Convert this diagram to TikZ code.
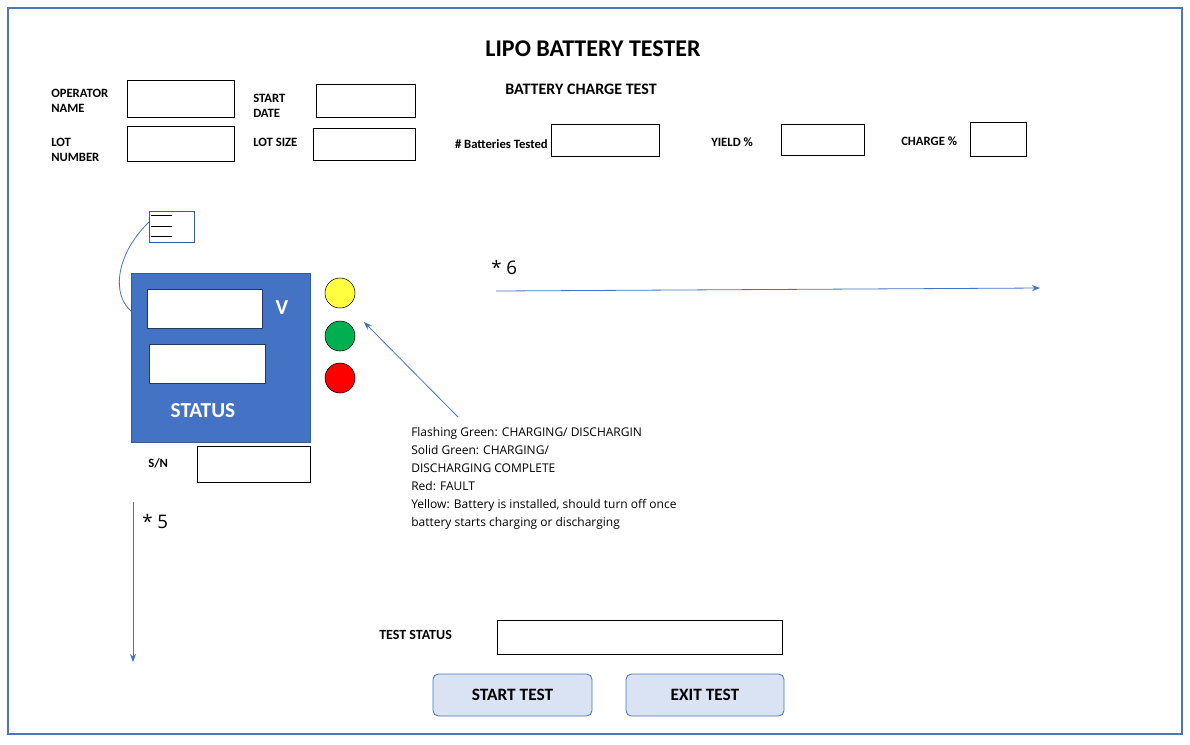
\documentclass[tikz,border=0pt]{standalone}
\usepackage{fontspec}
\setmainfont{Carlito}
\newfontfamily\notefont{Open Sans}
\usetikzlibrary{arrows.meta}
\definecolor{bl}{HTML}{4472C4}
\definecolor{btn}{HTML}{DAE3F3}
\definecolor{gr}{HTML}{00B050}
\definecolor{ye}{HTML}{FFFF40}
\definecolor{rd}{HTML}{FF0000}
\tikzset{
 lbl/.style={font=\bfseries\fontsize{9.5}{11}\selectfont,anchor=west,align=left,inner sep=0},
 fld/.style={draw=black,fill=white,line width=0.6pt},
 lamp/.style={circle,draw=black,minimum size=22.5pt,inner sep=0},
 conn/.style={draw=bl,line width=0.6pt,-{Stealth[length=6pt]}},
 button/.style={draw=bl,fill=btn,rounded corners=4pt,line width=0.6pt,font=\bfseries\fontsize{13}{15}\selectfont}
}
\begin{document}
\begin{tikzpicture}[x=0.75pt,y=-0.75pt]
\useasboundingbox (0,0) rectangle (1190,744);
\draw[bl!80!gray,line width=1.6pt] (8,8) rectangle (1182,734);
\node[font=\bfseries\fontsize{18}{20}\selectfont] (title) at (593,49) {LIPO BATTERY TESTER};
\node[font=\bfseries\fontsize{12}{14}\selectfont] (sub) at (581,89) {BATTERY CHARGE TEST};
\node[lbl] (opl) at (51,101) {OPERATOR\\NAME};
\draw[fld] (127,80) rectangle (234,117);
\node[lbl] (sdl) at (253,106) {START\\DATE};
\draw[fld] (316,84) rectangle (415,117);
\node[lbl] (lnl) at (51,150) {LOT\\NUMBER};
\draw[fld] (127,126) rectangle (234,161);
\node[lbl] (lsl) at (253,142) {LOT SIZE};
\draw[fld] (313,128) rectangle (415,160);
\node[lbl,anchor=east] (btl) at (548,144) {\# Batteries Tested};
\draw[fld] (551,124) rectangle (659,156);
\node[lbl] (yl) at (711,142) {YIELD \%};
\draw[fld] (781,124) rectangle (864,155);
\node[lbl] (cl) at (901,141) {CHARGE \%};
\draw[fld] (970,122) rectangle (1026,156);
% icon
\node[draw=bl!80!black,minimum width=33.75pt,minimum height=23.25pt,inner sep=0,anchor=north west] (icon) at (149,211) {};
\foreach \yy in {215,226,236} \draw[black,line width=0.6pt] (151,\yy) -- (172,\yy);
% device
\node[fill=bl,draw=bl!80!black,minimum width=134.25pt,minimum height=126.75pt,anchor=north west,inner sep=0] (dev) at (131,273) {};
\draw[bl,line width=0.6pt] (149,222) .. controls (115,255) and (112,295) .. (131,311);
\draw[fld,draw=bl!50!black] (147,289) rectangle (262,328);
\draw[fld,draw=bl!50!black] (149,344) rectangle (265,383);
\node[text=white,font=\bfseries\fontsize{16}{18}\selectfont] (v) at (282,308) {V};
\node[text=white,font=\bfseries\fontsize{16}{18}\selectfont] (st) at (203,411) {STATUS};
\node[lamp,fill=ye] (ly) at (340,293) {};
\node[lamp,fill=gr] (lg) at (340,336) {};
\node[lamp,fill=rd] (lr) at (340,378) {};
\coordinate (nt) at (458,417);
\draw[conn] (nt) -- (364,322);
\node[anchor=north west,align=left,inner sep=0,font=\notefont\fontsize{9}{13.5}\selectfont] (note) at (411,427) {Flashing Green: CHARGING/ DISCHARGIN\\Solid Green: CHARGING/\\DISCHARGING COMPLETE\\Red: FAULT\\Yellow: Battery is installed, should turn off once\\battery starts charging or discharging};
\node[lbl] (snl) at (148,463) {S/N};
\draw[fld] (197,446) rectangle (310,482);
\node[anchor=west,inner sep=0,font=\notefont\fontsize{14}{16}\selectfont] (s5) at (142,521) {* 5};
\coordinate (a5s) at (133,502); \coordinate (a5e) at (133,662);
\draw[conn] (a5s) -- (a5e);
\node[anchor=west,inner sep=0,font=\notefont\fontsize{14}{16}\selectfont] (s6) at (491,267) {* 6};
\coordinate (a6s) at (496,291); \coordinate (a6e) at (1040,288);
\draw[conn] (a6s) -- (a6e);
\node[lbl,font=\bfseries\fontsize{10.5}{12}\selectfont] (tsl) at (379,635) {TEST STATUS};
\draw[fld] (497,620) rectangle (782,654);
\node[button,minimum width=119.25pt,minimum height=31.5pt] (start) at (512.5,695) {START TEST};
\node[button,minimum width=118.5pt,minimum height=31.5pt] (exit) at (705,695) {EXIT TEST};
\end{tikzpicture}
\end{document}
